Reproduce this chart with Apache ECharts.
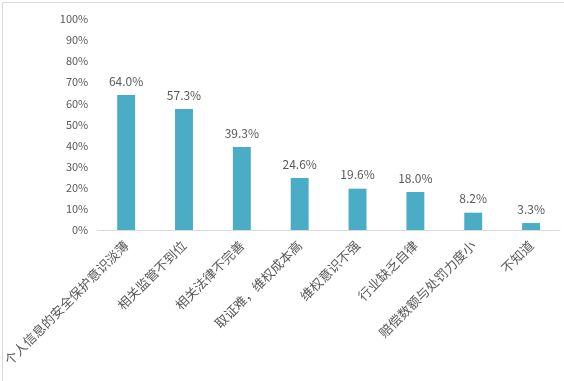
<!DOCTYPE html>
<html>
<head>
<meta charset="utf-8">
<script src="https://cdn.jsdelivr.net/npm/echarts@6/dist/echarts.min.js"></script>
<style>
html,body{margin:0;padding:0;background:#fff;}
#c{width:564px;height:381px;}
</style>
</head>
<body>
<div id="c"></div>
<script>
var categories = ['个人信息的安全保护意识淡薄','相关监管不到位','相关法律不完善','取证难，维权成本高','维权意识不强','行业缺乏自律','赔偿数额与处罚力度小','不知道'];
var values = [64.0, 57.3, 39.3, 24.6, 19.6, 18.0, 8.2, 3.3];
var yTicks = {min: 0, max: 100, interval: 10};

var chart = echarts.init(document.getElementById('c'), null, {renderer: 'canvas'});
var font = '"Noto Sans CJK SC", "Noto Sans", sans-serif';
chart.setOption({
  animation: false,
  backgroundColor: '#fff',
  graphic: [{
    type: 'rect', left: 0, top: 0,
    shape: {x: 0.5, y: 0.5, width: 563, height: 379},
    style: {fill: 'none', stroke: '#d9d9d9', lineWidth: 1}
  }],
  grid: {left: 96, right: 4, top: 19, bottom: 151, containLabel: false},
  xAxis: {
    type: 'category',
    data: categories,
    axisLine: {show: true, lineStyle: {color: '#d9d9d9', width: 1}},
    axisTick: {show: false},
    axisLabel: {rotate: 45, interval: 0, color: '#595959', fontSize: 13, fontFamily: font, margin: 13}
  },
  yAxis: {
    type: 'value',
    min: yTicks.min, max: yTicks.max, interval: yTicks.interval,
    splitLine: {show: false},
    axisLine: {show: false},
    axisTick: {show: false},
    axisLabel: {color: '#595959', fontSize: 11, fontFamily: font, margin: 9, formatter: '{value}%'}
  },
  series: [{
    type: 'bar',
    data: values,
    barWidth: '31%',
    itemStyle: {color: '#4bacc6'},
    label: {
      show: true, position: 'top', distance: 8,
      color: '#595959', fontSize: 12, fontFamily: font,
      formatter: function(p){ return p.value.toFixed(1) + '%'; }
    }
  }]
});
</script>
</body>
</html>
